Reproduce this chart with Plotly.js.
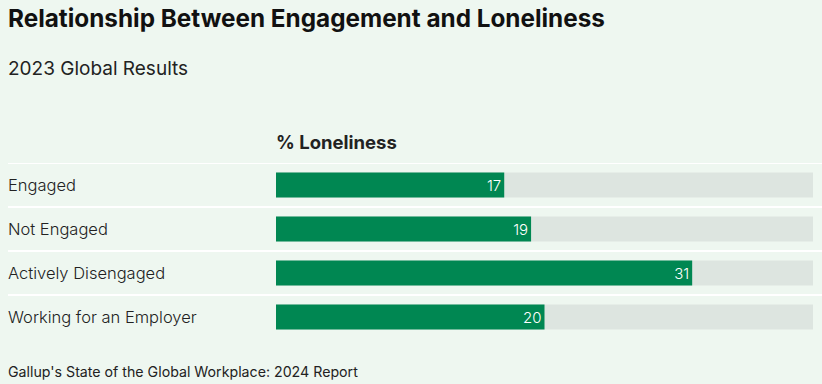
<!DOCTYPE html>
<html>
<head>
<meta charset="utf-8">
<script src="https://cdn.plot.ly/plotly-3.0.1.min.js"></script>
<style>html,body{margin:0;padding:0;background:#eef7f0;}#chart{width:822px;height:384px;}</style>
</head>
<body>
<div id="chart"></div>
<script>
const categories = ["Engaged", "Not Engaged", "Actively Disengaged", "Working for an Employer"];
const loneliness = [17, 19, 31, 20];
const trackMax = 40;
const titleText = "Relationship Between Engagement and Loneliness";
const subtitleText = "2023 Global Results";
const headerText = "% Loneliness";
const sourceText = "Gallup's State of the Global Workplace: 2024 Report";

const W = 822, H = 384;
const L = 276, R = 9, T = 163, B = 45;
const pw = W - L - R, ph = H - T - B;
const px = x => (x - L) / pw;
const py = y => (H - B - y) / ph;

const bg = "#eef7f0";
const green = "#008752";
const track = "#dde5e0";
const textCol = "#222222";

const traces = [
  {
    type: "bar", orientation: "h",
    y: categories, x: categories.map(() => trackMax),
    marker: {color: track}, width: 0.57, hoverinfo: "skip", showlegend: false
  },
  {
    type: "bar", orientation: "h",
    y: categories, x: loneliness,
    text: loneliness.map(String), textposition: "inside", insidetextanchor: "end",
    textangle: 0,
    textfont: {family: "Inter", size: 15, color: "#ffffff", weight: 300},
    marker: {color: green}, width: 0.57, hoverinfo: "skip", showlegend: false
  }
];

const shapes = categories.map((c, i) => ({
  type: "line", xref: "paper", yref: "y",
  x0: px(8), x1: px(W), y0: i - 0.5, y1: i - 0.5,
  line: {color: "#ffffff", width: 2}
}));

const ann = (o) => Object.assign({showarrow: false, borderpad: 0, borderwidth: 0, xanchor: "left", yanchor: "middle"}, o);

const annotations = categories.map(c => ann({
  xref: "paper", yref: "y", x: px(8), y: c,
  text: c, font: {family: "Inter", size: 16.5, color: textCol, weight: 300}
}));
annotations.push(
  ann({xref: "paper", yref: "paper", x: px(8), y: py(69),
   text: subtitleText, font: {family: "Inter", size: 19, color: textCol}}),
  ann({xref: "paper", yref: "paper", x: px(276), y: py(142),
   text: headerText, font: {family: "Inter", size: 18.5, color: textCol, weight: 700}}),
  ann({xref: "paper", yref: "paper", x: px(8), y: py(371),
   text: sourceText, font: {family: "Inter", size: 14.2, color: textCol}})
);

const layout = {
  width: W, height: H,
  margin: {l: L, r: R, t: T, b: B, pad: 0},
  paper_bgcolor: bg, plot_bgcolor: bg,
  barmode: "overlay",
  title: {text: titleText, xref: "container", yref: "container", x: 8 / W, xanchor: "left",
          y: 1 - 18 / H, yanchor: "middle", pad: {l: 0, r: 0, t: 0, b: 0},
          font: {family: "Inter", size: 24.3, color: "#111111", weight: 700}},
  xaxis: {range: [0, trackMax], visible: false, fixedrange: true},
  yaxis: {type: "category", categoryarray: categories, categoryorder: "array",
          range: [categories.length - 0.5, -0.5], showticklabels: false,
          showgrid: false, zeroline: false, showline: false, ticks: "", fixedrange: true},
  shapes: shapes,
  annotations: annotations
};

Plotly.newPlot("chart", traces, layout, {staticPlot: true, displayModeBar: false});
</script>
</body>
</html>
